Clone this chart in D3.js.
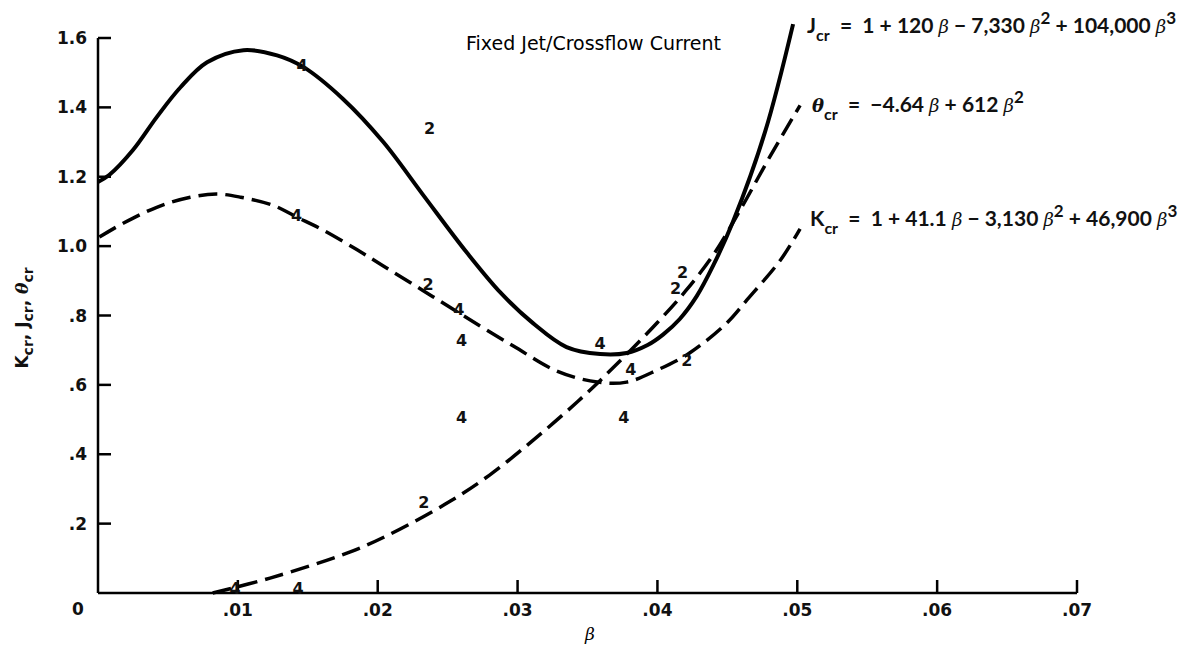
<!DOCTYPE html>
<html>
<head>
<meta charset="utf-8">
<script src="https://cdn.jsdelivr.net/npm/d3@7.9.0/dist/d3.min.js"></script>
<style>
  body { margin: 0; background: #fff; }
  svg { display: block; }
  text { white-space: pre; }
  .axis-line { stroke: #000; stroke-width: 2.5; fill: none; }
  .tick-lbl { font-family: 'DejaVu Sans', sans-serif; font-weight: bold; font-size: 17px; fill: #111; }
  .mark { font-family: 'DejaVu Sans', sans-serif; font-weight: bold; font-size: 16px; fill: #111; }
  .eq { font-family: Lato, 'DejaVu Sans', sans-serif; font-weight: bold; font-size: 21px; fill: #111; }
</style>
</head>
<body>
<div id="chart"></div>
<script>
const width = 1192;
const height = 648;

// values: [beta, value]
const jCurve = [
  [0.0000, 1.185], [0.0008, 1.205], [0.0025, 1.277], [0.0042, 1.372], [0.0059, 1.458],
  [0.0078, 1.530], [0.0104, 1.565], [0.0128, 1.550], [0.0147, 1.516], [0.0175, 1.425],
  [0.0204, 1.300], [0.0232, 1.150], [0.0264, 0.980], [0.0288, 0.865], [0.0311, 0.778],
  [0.0335, 0.709], [0.0359, 0.689], [0.0378, 0.692], [0.0393, 0.715], [0.0404, 0.745],
  [0.0416, 0.790], [0.0428, 0.855], [0.0440, 0.945], [0.0454, 1.070], [0.0477, 1.330],
  [0.0497, 1.640]
];
const thetaCurve = [
  [0.0082, 0.000], [0.0123, 0.043], [0.0178, 0.115], [0.0207, 0.166], [0.0252, 0.265],
  [0.0280, 0.340], [0.0311, 0.440], [0.0343, 0.552], [0.0371, 0.660], [0.0400, 0.780],
  [0.0420, 0.870], [0.0440, 0.975], [0.0460, 1.110], [0.0480, 1.255], [0.0502, 1.406]
];
const kCurve = [
  [0.0001, 1.026], [0.0018, 1.066], [0.0042, 1.112], [0.0066, 1.141], [0.0085, 1.150],
  [0.0102, 1.141], [0.0125, 1.118], [0.0142, 1.084], [0.0161, 1.046], [0.0185, 0.990],
  [0.0204, 0.943], [0.0232, 0.873], [0.0261, 0.800], [0.0297, 0.712], [0.0328, 0.640],
  [0.0357, 0.608], [0.0378, 0.608], [0.0400, 0.643], [0.0423, 0.692], [0.0450, 0.780],
  [0.0464, 0.845], [0.0488, 0.960], [0.0502, 1.050]
];
const marks4 = [
  [0.0146, 1.522], [0.0142, 1.089], [0.0258, 0.816], [0.0260, 0.729], [0.0359, 0.720],
  [0.0381, 0.645], [0.0260, 0.507], [0.0376, 0.507], [0.0143, 0.014], [0.0098, 0.014]
];
const marks2 = [
  [0.0237, 1.340], [0.0236, 0.888], [0.0418, 0.925], [0.0413, 0.879], [0.0421, 0.669],
  [0.0233, 0.262]
];
const xTicks = [0.01, 0.02, 0.03, 0.04, 0.05, 0.06, 0.07];
const xTickLabels = ['.01', '.02', '.03', '.04', '.05', '.06', '.07'];
const yTicks = [0.2, 0.4, 0.6, 0.8, 1.0, 1.2, 1.4, 1.6];
const yTickLabels = ['.2', '.4', '.6', '.8', '1.0', '1.2', '1.4', '1.6'];

const x = d3.scaleLinear().domain([0, 0.07]).range([98, 1077]);
const y = d3.scaleLinear().domain([0, 1.6]).range([593, 38]);

const svg = d3.select('#chart').append('svg')
  .attr('width', width)
  .attr('height', height);

// axes
svg.append('line').attr('class', 'axis-line')
  .attr('x1', x(0)).attr('x2', x(0)).attr('y1', y(0)).attr('y2', y(1.6));
svg.append('line').attr('class', 'axis-line')
  .attr('x1', x(0)).attr('x2', x(0.07)).attr('y1', y(0)).attr('y2', y(0));

svg.selectAll('.ytick').data(yTicks).enter().append('line')
  .attr('class', 'axis-line')
  .attr('x1', x(0)).attr('x2', x(0) + 13)
  .attr('y1', d => y(d)).attr('y2', d => y(d));
svg.selectAll('.xtick').data(xTicks).enter().append('line')
  .attr('class', 'axis-line')
  .attr('x1', d => x(d)).attr('x2', d => x(d))
  .attr('y1', y(0)).attr('y2', y(0) - 13);

svg.selectAll('.ylbl').data(yTicks).enter().append('text')
  .attr('class', 'tick-lbl')
  .attr('x', x(0) - 11)
  .attr('y', d => y(d) + 6)
  .attr('text-anchor', 'end')
  .text((d, i) => yTickLabels[i]);
svg.selectAll('.xlbl').data(xTicks).enter().append('text')
  .attr('class', 'tick-lbl')
  .attr('x', d => x(d))
  .attr('y', y(0) + 23)
  .attr('text-anchor', 'middle')
  .text((d, i) => xTickLabels[i]);
svg.append('text').attr('class', 'tick-lbl')
  .attr('x', x(0) - 20).attr('y', y(0) + 22)
  .attr('text-anchor', 'middle').text('0');

// axis titles
svg.append('text')
  .attr('x', 590).attr('y', 640)
  .attr('text-anchor', 'middle')
  .style('font-family', "'DejaVu Serif', serif")
  .style('font-style', 'italic')
  .style('font-size', '17px')
  .text('β');

const ylab = svg.append('text')
  .attr('transform', 'translate(28,318) rotate(-90)')
  .attr('text-anchor', 'middle')
  .attr('class', 'tick-lbl');
ylab.append('tspan').text('K');
ylab.append('tspan').attr('dy', 5).style('font-size', '14px').text('cr');
ylab.append('tspan').attr('dy', -5).text(', J');
ylab.append('tspan').attr('dy', 5).style('font-size', '14px').text('cr');
ylab.append('tspan').attr('dy', -5).text(', ');
ylab.append('tspan').style('font-family', "'DejaVu Serif', serif").style('font-style', 'italic').text('θ');
ylab.append('tspan').attr('dy', 5).style('font-size', '14px').text('cr');

svg.append('text')
  .attr('x', 466).attr('y', 50)
  .style('font-family', "'DejaVu Sans', sans-serif")
  .style('font-size', '19px')
  .text('Fixed Jet/Crossflow Current');

// curves
const line = d3.line()
  .x(d => x(d[0]))
  .y(d => y(d[1]))
  .curve(d3.curveCatmullRom.alpha(0.5));

svg.append('path').datum(kCurve)
  .attr('d', line)
  .attr('fill', 'none').attr('stroke', '#000').attr('stroke-width', 3.5)
  .attr('stroke-dasharray', '19,8');
svg.append('path').datum(thetaCurve)
  .attr('d', line)
  .attr('fill', 'none').attr('stroke', '#000').attr('stroke-width', 3.5)
  .attr('stroke-dasharray', '19,8');
svg.append('path').datum(jCurve)
  .attr('d', line)
  .attr('fill', 'none').attr('stroke', '#000').attr('stroke-width', 4);

// data marks
svg.selectAll('.m4').data(marks4).enter().append('text')
  .attr('class', 'mark')
  .attr('x', d => x(d[0])).attr('y', d => y(d[1]))
  .attr('text-anchor', 'middle').attr('dominant-baseline', 'central')
  .text('4');
svg.selectAll('.m2').data(marks2).enter().append('text')
  .attr('class', 'mark')
  .attr('x', d => x(d[0])).attr('y', d => y(d[1]))
  .attr('text-anchor', 'middle').attr('dominant-baseline', 'central')
  .text('2');

// fitted equations
function equation(x0, y0, sym, symItalic, parts) {
  const t = svg.append('text').attr('class', 'eq').attr('x', x0).attr('y', y0);
  const s = t.append('tspan').text(sym);
  if (symItalic) s.style('font-family', "'DejaVu Serif', serif").style('font-style', 'italic').style('font-size', '18px');
  t.append('tspan').attr('dy', 8).style('font-size', '16px').text('cr');
  let shift = 8;
  parts.forEach(p => {
    const dy = p.sup ? -9 - shift : -shift;
    shift = p.sup ? -9 : 0;
    const ts = t.append('tspan').attr('dy', dy).text(p.t);
    if (p.sup) ts.style('font-size', '17px');
    if (p.beta) ts.style('font-family', "'DejaVu Serif', serif").style('font-style', 'italic').style('font-weight', 'normal').style('font-size', '18px');
  });
}

equation(807, 33, 'J', false, [
  { t: '  =  1 + 120 ' }, { t: 'β', beta: true }, { t: ' − 7,330 ' }, { t: 'β', beta: true },
  { t: '2', sup: true }, { t: ' + 104,000 ' }, { t: 'β', beta: true }, { t: '3', sup: true }
]);
equation(812, 112, 'θ', true, [
  { t: '  =  −4.64 ' }, { t: 'β', beta: true }, { t: ' + 612 ' }, { t: 'β', beta: true },
  { t: '2', sup: true }
]);
equation(810, 226, 'K', false, [
  { t: '  =  1 + 41.1 ' }, { t: 'β', beta: true }, { t: ' − 3,130 ' }, { t: 'β', beta: true },
  { t: '2', sup: true }, { t: ' + 46,900 ' }, { t: 'β', beta: true }, { t: '3', sup: true }
]);
</script>
</body>
</html>
